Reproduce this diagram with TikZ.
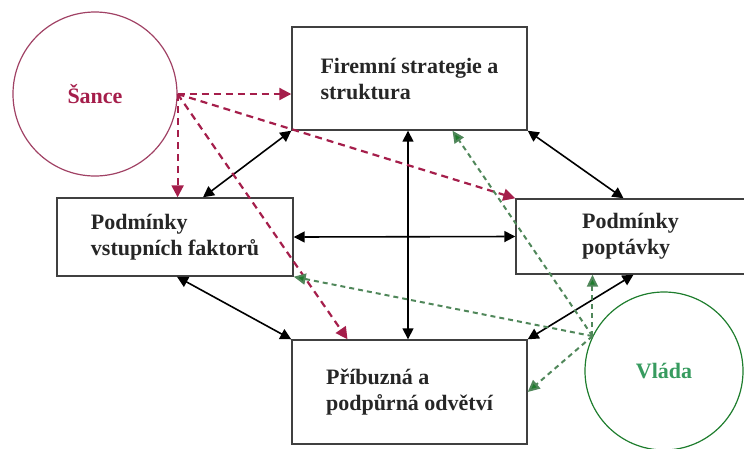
\documentclass[tikz,border=0pt]{standalone}
\usepackage{fontspec}
\setmainfont{Liberation Serif}
\usetikzlibrary{arrows.meta, calc}
\definecolor{sancered}{RGB}{165,30,75}
\definecolor{sancering}{RGB}{160,65,100}
\definecolor{vladagreen}{RGB}{30,125,45}
\definecolor{vladaline}{RGB}{80,135,90}
\definecolor{vladatext}{RGB}{55,155,95}
\tikzset{
  factorbox/.style={
    draw = black!75,
    line width = 1.4pt,
    align = left,
    font = \fontsize{22}{26}\selectfont\bfseries,
    text = black!85,
    inner sep = 0
  },
  influence/.style={
    circle,
    draw,
    line width = 1.2pt,
    font = \fontsize{22}{26}\selectfont\bfseries,
    inner sep = 0
  },
  mutualvec/.style={
    line width = 1.6pt,
    arrows = {Triangle[length=11pt,width=11pt]-Triangle[length=11pt,width=11pt]}
  },
  sancevec/.style={
    sancered,
    dash pattern = on 7pt off 5pt,
    line width = 2.2pt,
    arrows = {-Triangle[length=12pt,width=12pt]}
  },
  vladavec/.style={
    vladaline,
    dash pattern = on 5pt off 4pt,
    line width = 2pt,
    arrows = {-Triangle[length=12pt,width=11pt,fill=vladagreen]}
  }
}

\begin{document}
\begin{tikzpicture}[x=1pt, y=-1pt]
    \useasboundingbox (0,0) rectangle (744,448);
    \clip (0,0) rectangle (744,448);
    % the four factors
    \node[factorbox, minimum width=235pt, minimum height=103pt] (firma) at (409.5,78.5)
      {Firemní strategie a\\struktura};
    \node[factorbox, minimum width=236pt, minimum height=78pt] (vstupy) at (175,237)
      {Podmínky\\vstupních faktorů};
    \node[factorbox, minimum width=229pt, minimum height=75pt] (poptavka) at (630.5,236.5)
      {Podmínky\\poptávky};
    \node[factorbox, minimum width=235pt, minimum height=104pt] (pribuzna) at (409.5,392)
      {Příbuzná a\\podpůrná odvětví};
    % outside influences
    \node[influence, draw=sancering, text=sancered, minimum size=164pt] (sance) at (95,94) {Šance};
    \node[influence, draw=vladagreen, text=vladatext, minimum size=158pt] (vlada) at (664,371) {Vláda};

    \draw[mutualvec] (firma.south west) -- ([xshift=28pt]vstupy.north);
    \draw[mutualvec] (firma.south east) -- ([xshift=-7pt]poptavka.north);
    \draw[mutualvec] ([xshift=-1.5pt]pribuzna.north) -- ([xshift=-1.5pt]firma.south);
    \draw[mutualvec] (vstupy.east) -- (poptavka.west);
    \draw[mutualvec] ([xshift=2pt]vstupy.south) -- (pribuzna.north west);
    \draw[mutualvec] ([xshift=3pt]poptavka.south) -- (pribuzna.north east);

    \draw[sancevec] (sance.east) -- (sance.east -| firma.west);
    \draw[sancevec] (sance.east) -- (sance.east |- vstupy.north);
    \draw[sancevec] (sance.east) -- (poptavka.north west);
    \draw[sancevec] (sance.east) -- ([xshift=-62pt]pribuzna.north);

    \draw[vladavec] (vlada.154) -- ([xshift=43pt]firma.south);
    \draw[vladavec] (vlada.154) -- (vstupy.south east);
    \draw[vladavec] (vlada.154) -- (vlada.154 |- poptavka.south);
    \draw[vladavec] (vlada.154) -- (pribuzna.east);
\end{tikzpicture}
\end{document}
